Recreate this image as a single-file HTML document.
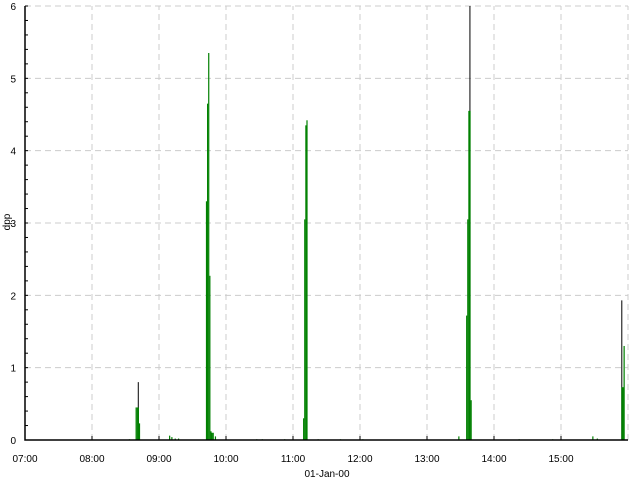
<!DOCTYPE html>
<html><head><meta charset="utf-8"><style>
body{margin:0;background:#fff}
svg{display:block;font-family:"Liberation Sans",sans-serif}
</style></head><body>
<svg id="c" width="640" height="480"></svg>
<script>
const xTicks=["07:00","08:00","09:00","10:00","11:00","12:00","13:00","14:00","15:00"];
const yTicks=[0,1,2,3,4,5,6];
const minutes=[93,99,100,101,102,129,131,134,137,162,163,164,165,166,167,168,170,207,212,232,249,250,251,252,262,282,302,388,395,396,397,398,399,442,472,508,512,534,535,536];
const values=[0.01,0.45,0.45,0.45,0.23,0.06,0.04,0.02,0.02,3.3,4.65,5.35,2.27,0.12,0.1,0.1,0.05,0.01,0.01,0.01,0.3,3.05,4.35,4.42,0.01,0.01,0.01,0.05,1.72,3.05,4.55,4.55,0.55,0.01,0.01,0.05,0.02,0.73,0.73,1.3];
const peakMinutes=[101,398,534];
const peakValues=[0.8,6.0,1.93];
const NS="http://www.w3.org/2000/svg",svg=document.getElementById('c');
const X0=25,X1=628,Y0=440,Y1=6;
const xs=m=>X0+(X1-X0)*m/540, ys=v=>Y0-(Y0-Y1)*v/6;
function mk(t,a,p){const e=document.createElementNS(NS,t);for(const k in a)e.setAttribute(k,a[k]);(p||svg).appendChild(e);return e;}
yTicks.forEach(v=>{const g=mk('line',{x1:X0,x2:X1,y1:ys(v),y2:ys(v),stroke:'#ccc','stroke-dasharray':'6,4'});


const t=mk('text',{x:16,y:ys(v)+4,'text-anchor':'end','font-size':10});t.textContent=v;

});
for(let v=0;v<=6.001;v+=0.2){const l=mk('line',{x1:X0,x2:X0+3,y1:ys(v),y2:ys(v),stroke:'#000'});

}
xTicks.forEach((s,i)=>{const x=xs(i*60);
const g=mk('line',{x1:x,x2:x,y1:Y0,y2:Y1,stroke:'#ccc','stroke-dasharray':'6,4'});


const k=mk('line',{x1:x,x2:x,y1:Y0,y2:Y0-4,stroke:'#000'});


const t=mk('text',{x:x,y:462,'text-anchor':'middle','font-size':10});t.textContent=s;

});
const gr=mk('line',{x1:X1,x2:X1,y1:Y0,y2:Y1,stroke:'#ccc','stroke-dasharray':'6,4'});


peakMinutes.forEach((m,i)=>{const l=mk('line',{x1:xs(m)+0.5,x2:xs(m)+0.5,y1:Y0,y2:ys(peakValues[i]),stroke:'#000','stroke-width':1});

});
minutes.forEach((m,i)=>{const b=mk('rect',{x:xs(m),y:ys(values[i]),width:1.2,height:Y0-ys(values[i]),fill:'#008000'});

});
const ax=mk('path',{d:`M${X0} ${Y1}V${Y0}H${X1}`,stroke:'#000',fill:'none','stroke-width':1.5});


const xt=mk('text',{x:327,y:477,'text-anchor':'middle','font-size':10});xt.textContent='01-Jan-00';


const yt=mk('text',{x:0,y:0,'text-anchor':'middle','font-size':10,transform:'translate(10,222) rotate(-90)'});yt.textContent='dpp';


</script>
</body></html>
